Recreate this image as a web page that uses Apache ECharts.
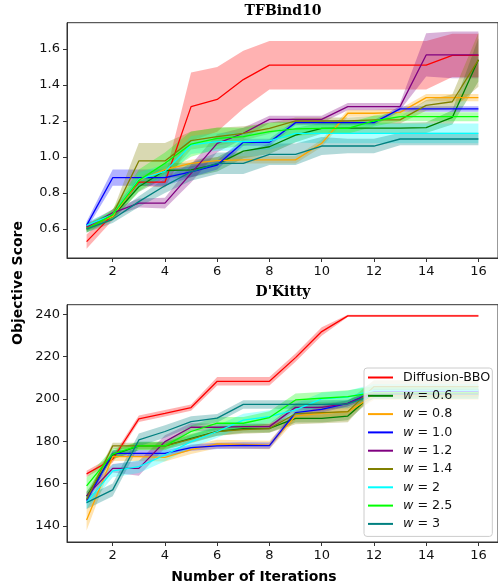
<!DOCTYPE html>
<html>
<head>
<meta charset="utf-8">
<script src="https://cdn.jsdelivr.net/npm/echarts@6/dist/echarts.min.js"></script>
<style>
  html, body { margin: 0; padding: 0; background: #fff; }
  #chart { width: 498px; height: 586px; }
</style>
</head>
<body>
<div id="chart"></div>
<script>
// iterations shared by both panels
const iterations = [1, 2, 3, 4, 5, 6, 7, 8, 9, 10, 11, 12, 13, 14, 15, 16];
const seriesNames = ['Diffusion-BBO', 'w = 0.6', 'w = 0.8', 'w = 1.0', 'w = 1.2', 'w = 1.4', 'w = 2', 'w = 2.5', 'w = 3'];
const seriesColors = ['#ff0000', '#008000', '#ffa500', '#0000ff', '#800080', '#808000', '#00ffff', '#00ff00', '#008080'];

// TFBind10 panel: means
const tfBBO  = [0.53, 0.68, 0.86, 0.86, 1.28, 1.32, 1.43, 1.51, 1.51, 1.51, 1.51, 1.51, 1.51, 1.51, 1.565, 1.565];
const tfW06  = [0.61, 0.67, 0.835, 0.925, 0.928, 0.96, 1.033, 1.057, 1.122, 1.159, 1.16, 1.16, 1.16, 1.163, 1.22, 1.54];
const tfW08  = [0.61, 0.67, 0.87, 0.93, 0.965, 0.98, 0.984, 0.984, 0.984, 1.076, 1.243, 1.243, 1.248, 1.33, 1.33, 1.33];
const tfW10  = [0.62, 0.885, 0.885, 0.885, 0.918, 0.955, 1.082, 1.082, 1.191, 1.191, 1.191, 1.191, 1.267, 1.267, 1.267, 1.267];
const tfW12  = [0.61, 0.69, 0.744, 0.744, 0.909, 1.076, 1.132, 1.209, 1.209, 1.209, 1.28, 1.28, 1.28, 1.567, 1.567, 1.567];
const tfW14  = [0.6, 0.68, 0.978, 0.978, 1.091, 1.113, 1.131, 1.159, 1.2, 1.2, 1.2, 1.206, 1.206, 1.287, 1.307, 1.54];
const tfW2   = [0.62, 0.68, 0.876, 0.92, 1.067, 1.085, 1.085, 1.09, 1.131, 1.131, 1.131, 1.131, 1.131, 1.131, 1.131, 1.131];
const tfW25  = [0.6, 0.68, 0.87, 0.965, 1.072, 1.104, 1.113, 1.141, 1.156, 1.159, 1.159, 1.2, 1.224, 1.224, 1.224, 1.224];
const tfW3   = [0.6, 0.654, 0.752, 0.84, 0.918, 0.965, 0.965, 1.015, 1.015, 1.061, 1.061, 1.061, 1.1, 1.1, 1.1, 1.1];
// TFBind10 panel: half-width of shaded band
const tfBBOErr = [0.04, 0.03, 0.02, 0.03, 0.19, 0.18, 0.16, 0.135, 0.135, 0.135, 0.135, 0.135, 0.135, 0.135, 0.12, 0.12];
const tfW06Err = [0.02, 0.02, 0.03, 0.04, 0.04, 0.04, 0.04, 0.04, 0.04, 0.03, 0.03, 0.03, 0.03, 0.03, 0.04, 0.12];
const tfW08Err = [0.02, 0.02, 0.02, 0.02, 0.02, 0.02, 0.02, 0.02, 0.02, 0.02, 0.02, 0.02, 0.02, 0.02, 0.02, 0.02];
const tfW10Err = [0.02, 0.045, 0.045, 0.045, 0.03, 0.025, 0.02, 0.02, 0.015, 0.015, 0.015, 0.015, 0.015, 0.015, 0.015, 0.015];
const tfW12Err = [0.02, 0.02, 0.025, 0.03, 0.05, 0.05, 0.03, 0.02, 0.02, 0.02, 0.02, 0.02, 0.02, 0.12, 0.13, 0.13];
const tfW14Err = [0.02, 0.02, 0.1, 0.1, 0.05, 0.05, 0.04, 0.03, 0.02, 0.02, 0.02, 0.02, 0.02, 0.03, 0.04, 0.15];
const tfW2Err  = [0.02, 0.02, 0.04, 0.04, 0.05, 0.05, 0.05, 0.05, 0.05, 0.055, 0.055, 0.055, 0.055, 0.055, 0.055, 0.055];
const tfW25Err = [0.02, 0.03, 0.06, 0.06, 0.07, 0.06, 0.05, 0.05, 0.04, 0.03, 0.03, 0.03, 0.025, 0.025, 0.025, 0.025];
const tfW3Err  = [0.02, 0.02, 0.03, 0.04, 0.05, 0.06, 0.06, 0.06, 0.06, 0.05, 0.04, 0.04, 0.035, 0.035, 0.035, 0.035];

// D'Kitty panel: means
const dkBBO  = [164.6, 171.5, 190.6, 193.2, 195.9, 208.3, 208.3, 208.3, 219.5, 231.8, 239.2, 239.2, 239.2, 239.2, 239.2, 239.2];
const dkW06  = [154, 173.5, 177.8, 177.8, 181.4, 184.6, 186, 186.1, 190.8, 190.8, 191.9, 202.7, 202.7, 202.7, 202.7, 202.7];
const dkW08  = [142.8, 172.7, 172.7, 172.4, 176, 178.7, 178.5, 178.2, 192, 193.2, 194, 201.5, 201.5, 201.5, 201.5, 201.5];
const dkW10  = [152, 174.3, 174.3, 174.3, 177, 177.8, 178, 177.9, 193.5, 195.1, 197.9, 203.5, 203.5, 203.5, 203.5, 203.5];
const dkW12  = [154.2, 167.2, 167.2, 179.8, 186.6, 186.6, 186.9, 186.9, 196, 196, 197.9, 203, 203, 203, 203, 203];
const dkW14  = [152.5, 177.8, 177.8, 177.8, 181, 184.6, 185.5, 186, 193, 193.5, 194, 205.8, 205.8, 205.8, 205.8, 205.8];
const dkW2   = [151, 166, 168, 173.5, 179.8, 184.6, 190, 191.6, 194.8, 200, 200.8, 204, 204, 204, 204, 204];
const dkW25  = [158.9, 174, 177.8, 177.8, 184.6, 188.5, 188.5, 191.2, 199.5, 200.3, 201.1, 203, 203, 203, 203, 203];
const dkW3   = [151, 157, 180.6, 184.6, 189.3, 190.9, 197.4, 197.4, 197.4, 197.4, 197.6, 202, 202, 202, 202, 202];
// D'Kitty panel: half-width of shaded band
const dkBBOErr = [1.5, 1.5, 1.5, 1.5, 1.5, 2, 2, 2, 2, 2, 0.5, 0.5, 0.5, 0.5, 0.5, 0.5];
const dkW06Err = [2, 2, 2, 2, 2, 2, 2, 2, 2, 2, 2, 2, 2, 2, 2, 2];
const dkW08Err = [5, 2, 2, 2, 2, 2, 2, 2, 2, 2, 2, 2, 2, 2, 2, 2];
const dkW10Err = [1.5, 1.5, 1.5, 1.5, 1.5, 1.5, 1.5, 1.5, 1.5, 1.5, 1.5, 1.5, 1.5, 1.5, 1.5, 1.5];
const dkW12Err = [2, 2, 3.5, 3, 2, 1.5, 1.5, 1.5, 1.5, 1.5, 1.5, 1.5, 1.5, 1.5, 1.5, 1.5];
const dkW14Err = [2, 1.5, 1.5, 1.5, 2, 2, 2, 2, 5, 5, 5, 3, 3, 3, 3, 3];
const dkW2Err  = [3, 3, 3, 3, 3, 3, 3, 3, 3, 3, 3, 3, 3, 3, 3, 3];
const dkW25Err = [4, 2.5, 2, 2, 3, 3, 3, 3, 3, 3, 3, 3, 3, 3, 3, 3];
const dkW3Err  = [3, 3, 3, 3, 2.5, 2, 2, 2, 2, 2, 2, 2, 2, 2, 2, 2];

const xTicks = [2, 4, 6, 8, 10, 12, 14, 16];
const tfTicks = [0.6, 0.8, 1.0, 1.2, 1.4, 1.6];
const dkTicks = [140, 160, 180, 200, 220, 240];

const tfMeans = [tfBBO, tfW06, tfW08, tfW10, tfW12, tfW14, tfW2, tfW25, tfW3];
const tfErrs = [tfBBOErr, tfW06Err, tfW08Err, tfW10Err, tfW12Err, tfW14Err, tfW2Err, tfW25Err, tfW3Err];
const dkMeans = [dkBBO, dkW06, dkW08, dkW10, dkW12, dkW14, dkW2, dkW25, dkW3];
const dkErrs = [dkBBOErr, dkW06Err, dkW08Err, dkW10Err, dkW12Err, dkW14Err, dkW2Err, dkW25Err, dkW3Err];

const FONT = 'DejaVu Sans';
const series = [];

function addPanel(idx, means, errs) {
    means.forEach((m, k) => {
        const e = errs[k];
        // shaded band drawn as one polygon through the axis scales
        series.push({
            type: 'custom', name: '_band', xAxisIndex: idx, yAxisIndex: idx,
            data: [[iterations[0], m[0]]], silent: true, z: 1,
            renderItem: function (params, api) {
                const pts = [];
                iterations.forEach((x, j) => pts.push(api.coord([x, m[j] + e[j]])));
                for (let j = iterations.length - 1; j >= 0; j--) pts.push(api.coord([iterations[j], m[j] - e[j]]));
                return { type: 'polygon', shape: { points: pts }, style: { fill: seriesColors[k], opacity: 0.3 } };
            }
        });
        series.push({
            type: 'line', name: seriesNames[k], xAxisIndex: idx, yAxisIndex: idx,
            data: iterations.map((x, j) => [x, m[j]]),
            symbol: 'none', lineStyle: { color: seriesColors[k], width: 1.3 },
            itemStyle: { color: seriesColors[k] }, z: 2
        });
    });
}
addPanel(0, tfMeans, tfErrs);
addPanel(1, dkMeans, dkErrs);

function xAxisOpt(idx) {
    return {
        type: 'value', gridIndex: idx, min: 0.25, max: 16.75,
        axisLine: { show: true, lineStyle: { color: '#333', width: 1 } },
        axisTick: { show: true, length: 4, customValues: xTicks, lineStyle: { color: '#333' } },
        axisLabel: { customValues: xTicks, color: '#111', fontFamily: FONT, fontSize: 13, margin: 7 },
        splitLine: { show: false }
    };
}
function yAxisOpt(idx, min, max, ticks, fmt) {
    return {
        type: 'value', gridIndex: idx, min: min, max: max,
        axisLine: { show: true, lineStyle: { color: '#333', width: 1 } },
        axisTick: { show: true, length: 4, customValues: ticks, lineStyle: { color: '#333' } },
        axisLabel: { customValues: ticks, formatter: fmt, color: '#111', fontFamily: FONT, fontSize: 13, margin: 7 },
        splitLine: { show: false }
    };
}

const chart = echarts.init(document.getElementById('chart'));
chart.setOption({
    animation: false,
    grid: [
        { left: 67, right: -3, top: 22.7, height: 235.3, show: true, borderColor: '#333', borderWidth: 1, backgroundColor: 'transparent' },
        { left: 67, right: -3, top: 304.7, height: 237.3, show: true, borderColor: '#333', borderWidth: 1, backgroundColor: 'transparent' }
    ],
    xAxis: [xAxisOpt(0), xAxisOpt(1)],
    yAxis: [
        yAxisOpt(0, 0.439, 1.746, tfTicks, v => v.toFixed(1)),
        yAxisOpt(1, 132.4, 244.5, dkTicks, v => String(Math.round(v)))
    ],
    legend: {
        data: seriesNames,
        orient: 'vertical',
        left: 364, top: 368,
        padding: [3, 2, 6, 4],
        itemWidth: 25, itemHeight: 2, itemGap: 5.3,
        icon: 'rect',
        backgroundColor: 'rgba(255,255,255,0.8)',
        borderColor: '#cccccc', borderWidth: 1, borderRadius: 3,
        formatter: name => name.charAt(0) === 'w' ? '{i|w}{n|' + name.slice(1) + '}' : '{n|' + name + '}',
        textStyle: {
            padding: [0, 0, 0, 5],
            rich: {
                i: { fontStyle: 'italic', fontFamily: FONT, fontSize: 12.7, color: '#111' },
                n: { fontFamily: FONT, fontSize: 12.7, color: '#111' }
            }
        }
    },
    graphic: [
        { type: 'text', x: 283, y: 11, style: { text: 'TFBind10', font: 'bold 14px "DejaVu Serif"', fill: '#000', textAlign: 'center', textVerticalAlign: 'middle' } },
        { type: 'text', x: 283, y: 292, style: { text: "D'Kitty", font: 'bold 14px "DejaVu Serif"', fill: '#000', textAlign: 'center', textVerticalAlign: 'middle' } },
        { type: 'text', x: 18, y: 283, rotation: Math.PI / 2, style: { text: 'Objective Score', font: 'bold 14px "DejaVu Sans"', fill: '#000', textAlign: 'center', textVerticalAlign: 'middle' } },
        { type: 'text', x: 254, y: 577, style: { text: 'Number of Iterations', font: 'bold 14px "DejaVu Sans"', fill: '#000', textAlign: 'center', textVerticalAlign: 'middle' } }
    ],
    series: series
});
</script>
</body>
</html>
